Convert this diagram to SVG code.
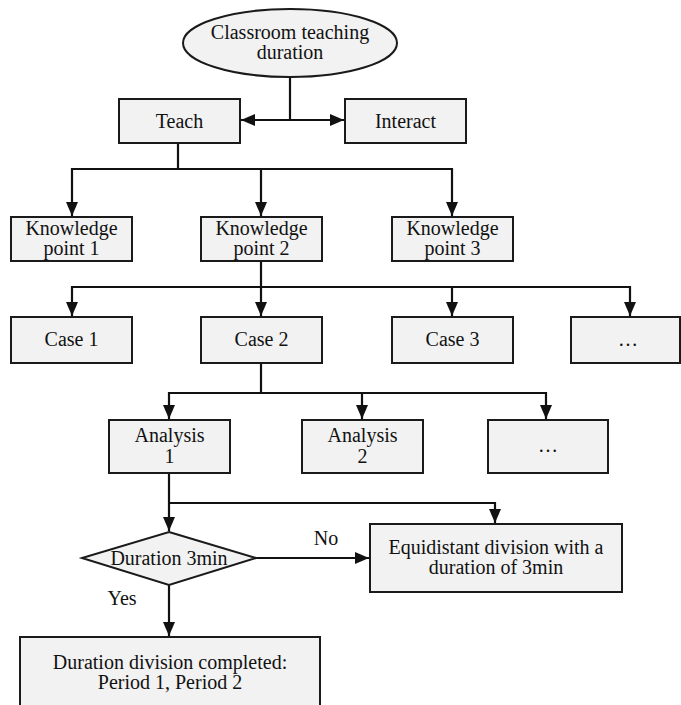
<svg xmlns="http://www.w3.org/2000/svg" width="681" height="705" viewBox="0 0 681 705">
<style>
.n{fill:#f2f2f2;stroke:#1a1a1a;stroke-width:2}
.t{font-family:"Liberation Serif","Times New Roman",serif;font-size:20px;fill:#111;text-anchor:middle}
.c{fill:none;stroke:#111;stroke-width:2.2}
</style>
<defs>
<marker id="a" markerUnits="userSpaceOnUse" markerWidth="15" markerHeight="15" refX="14" refY="7.5" orient="auto">
<path d="M0,1.5 L14,7.5 L0,13.5 Z" fill="#111"/>
</marker>
</defs>
<rect width="681" height="705" fill="#fff"/>
<g id="connectors">
<path class="c" d="M290,77 V120"/>
<path class="c" d="M290,120 H241" marker-end="url(#a)"/>
<path class="c" d="M290,120 H344" marker-end="url(#a)"/>
<path class="c" d="M178,143 V169 H72 V216" marker-end="url(#a)"/>
<path class="c" d="M178,169 H452 V216" marker-end="url(#a)"/>
<path class="c" d="M261,169 V216" marker-end="url(#a)"/>
<path class="c" d="M261,261 V287 H72 V316" marker-end="url(#a)"/>
<path class="c" d="M261,287 V316" marker-end="url(#a)"/>
<path class="c" d="M261,287 H630 V316" marker-end="url(#a)"/>
<path class="c" d="M452,287 V316" marker-end="url(#a)"/>
<path class="c" d="M261,363 V393 H169 V419" marker-end="url(#a)"/>
<path class="c" d="M261,393 H546 V419" marker-end="url(#a)"/>
<path class="c" d="M362,393 V419" marker-end="url(#a)"/>
<path class="c" d="M169,473 V531" marker-end="url(#a)"/>
<path class="c" d="M169,503 H495 V523" marker-end="url(#a)"/>
<path class="c" d="M256,558 H369" marker-end="url(#a)"/>
<path class="c" d="M169,585 V636" marker-end="url(#a)"/>
<text class="t" x="326" y="545">No</text>
<text class="t" x="122" y="605">Yes</text>
</g>
<g id="start"><ellipse class="n" cx="290" cy="43" rx="107" ry="34"/><text class="t" x="290" y="39">Classroom teaching</text><text class="t" x="290" y="59">duration</text></g>
<g id="teach"><rect class="n" x="119" y="99" width="121" height="44"/><text class="t" x="179.5" y="128">Teach</text></g>
<g id="interact"><rect class="n" x="345" y="99" width="121" height="44"/><text class="t" x="405.5" y="128">Interact</text></g>
<g id="kp1"><rect class="n" x="11" y="217" width="121" height="44"/><text class="t" x="71.5" y="235">Knowledge</text><text class="t" x="71.5" y="255">point 1</text></g>
<g id="kp2"><rect class="n" x="201" y="217" width="121" height="44"/><text class="t" x="261.5" y="235">Knowledge</text><text class="t" x="261.5" y="255">point 2</text></g>
<g id="kp3"><rect class="n" x="392" y="217" width="121" height="44"/><text class="t" x="452.5" y="235">Knowledge</text><text class="t" x="452.5" y="255">point 3</text></g>
<g id="case1"><rect class="n" x="11" y="317" width="121" height="46"/><text class="t" x="71.5" y="346">Case 1</text></g>
<g id="case2"><rect class="n" x="201" y="317" width="121" height="46"/><text class="t" x="261.5" y="346">Case 2</text></g>
<g id="case3"><rect class="n" x="392" y="317" width="121" height="46"/><text class="t" x="452.5" y="346">Case 3</text></g>
<g id="case-more"><rect class="n" x="571" y="317" width="109" height="46"/><text class="t" x="628" y="346">…</text></g>
<g id="analysis1"><rect class="n" x="109" y="420" width="121" height="53"/><text class="t" x="169.5" y="442">Analysis</text><text class="t" x="169.5" y="463">1</text></g>
<g id="analysis2"><rect class="n" x="302" y="420" width="121" height="53"/><text class="t" x="362.5" y="442">Analysis</text><text class="t" x="362.5" y="463">2</text></g>
<g id="analysis-more"><rect class="n" x="488" y="420" width="120" height="53"/><text class="t" x="548" y="452">…</text></g>
<g id="decision"><polygon class="n" points="169,532 256,558 169,585 82,558"/><text class="t" x="169" y="565">Duration 3min</text></g>
<g id="equidistant"><rect class="n" x="370" y="524" width="252" height="68"/><text class="t" x="496" y="554">Equidistant division with a</text><text class="t" x="496" y="574">duration of 3min</text></g>
<g id="completed"><rect class="n" x="20" y="637" width="300" height="80"/><text class="t" x="170" y="669">Duration division completed:</text><text class="t" x="170" y="689">Period 1, Period 2</text></g>
</svg>
